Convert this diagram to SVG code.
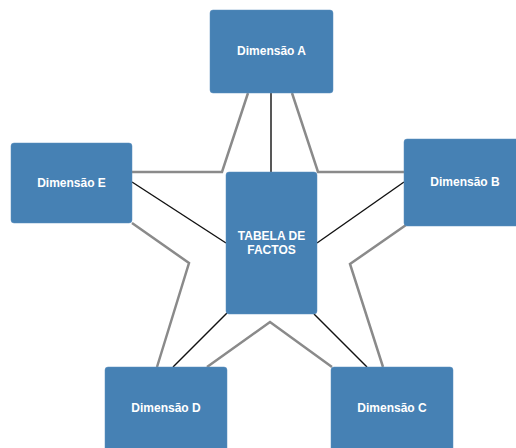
<svg xmlns="http://www.w3.org/2000/svg" width="516" height="448" viewBox="0 0 516 448">
  <style>
    .box { fill: #4681b4; stroke: #5b8fbf; stroke-width: 0.5; }
    .lbl { font-family: "Liberation Sans", Arial, sans-serif; font-size: 12px; font-weight: bold; fill: #ffffff; text-anchor: middle; }
    .star { fill: none; stroke: #8a8a8a; stroke-width: 2.5; stroke-linejoin: miter; }
    .link { fill: none; stroke: #111111; stroke-width: 1.4; }
  </style>
  <rect width="516" height="448" fill="#ffffff"/>

  <!-- star outline and spokes -->
  <g id="connectors">
    <polyline class="star" points="248,93 222,172 132,172"/>
    <polyline class="star" points="292,93 318,172 404,172"/>
    <polyline class="star" points="132,223 189,263 157,367"/>
    <polyline class="star" points="406,225 350,264 383,367"/>
    <polyline class="star" points="207,367 270,322 332,367"/>
    <line class="link" x1="271" y1="93" x2="271" y2="172"/>
    <line class="link" x1="132" y1="182" x2="226" y2="243"/>
    <line class="link" x1="404" y1="182" x2="317" y2="243"/>
    <line class="link" x1="173" y1="367" x2="227" y2="313"/>
    <line class="link" x1="367" y1="367" x2="314" y2="314"/>
  </g>

  <g id="dim-a">
    <rect class="box" x="210" y="10" width="123" height="83" rx="3"/>
    <text class="lbl" x="271.5" y="55">Dimensão A</text>
  </g>
  <g id="dim-b">
    <rect class="box" x="404" y="139" width="122" height="87" rx="3"/>
    <text class="lbl" x="465" y="186">Dimensão B</text>
  </g>
  <g id="dim-c">
    <rect class="box" x="331" y="367" width="122" height="84" rx="3"/>
    <text class="lbl" x="392" y="412">Dimensão C</text>
  </g>
  <g id="dim-d">
    <rect class="box" x="105" y="367" width="122" height="84" rx="3"/>
    <text class="lbl" x="166" y="412">Dimensão D</text>
  </g>
  <g id="dim-e">
    <rect class="box" x="11" y="143" width="121" height="80" rx="3"/>
    <text class="lbl" x="71.5" y="187">Dimensão E</text>
  </g>
  <g id="factos">
    <rect class="box" x="226" y="172" width="91" height="142" rx="3"/>
    <text class="lbl" x="271.5" y="240">TABELA DE</text>
    <text class="lbl" x="271.5" y="254">FACTOS</text>
  </g>
</svg>
